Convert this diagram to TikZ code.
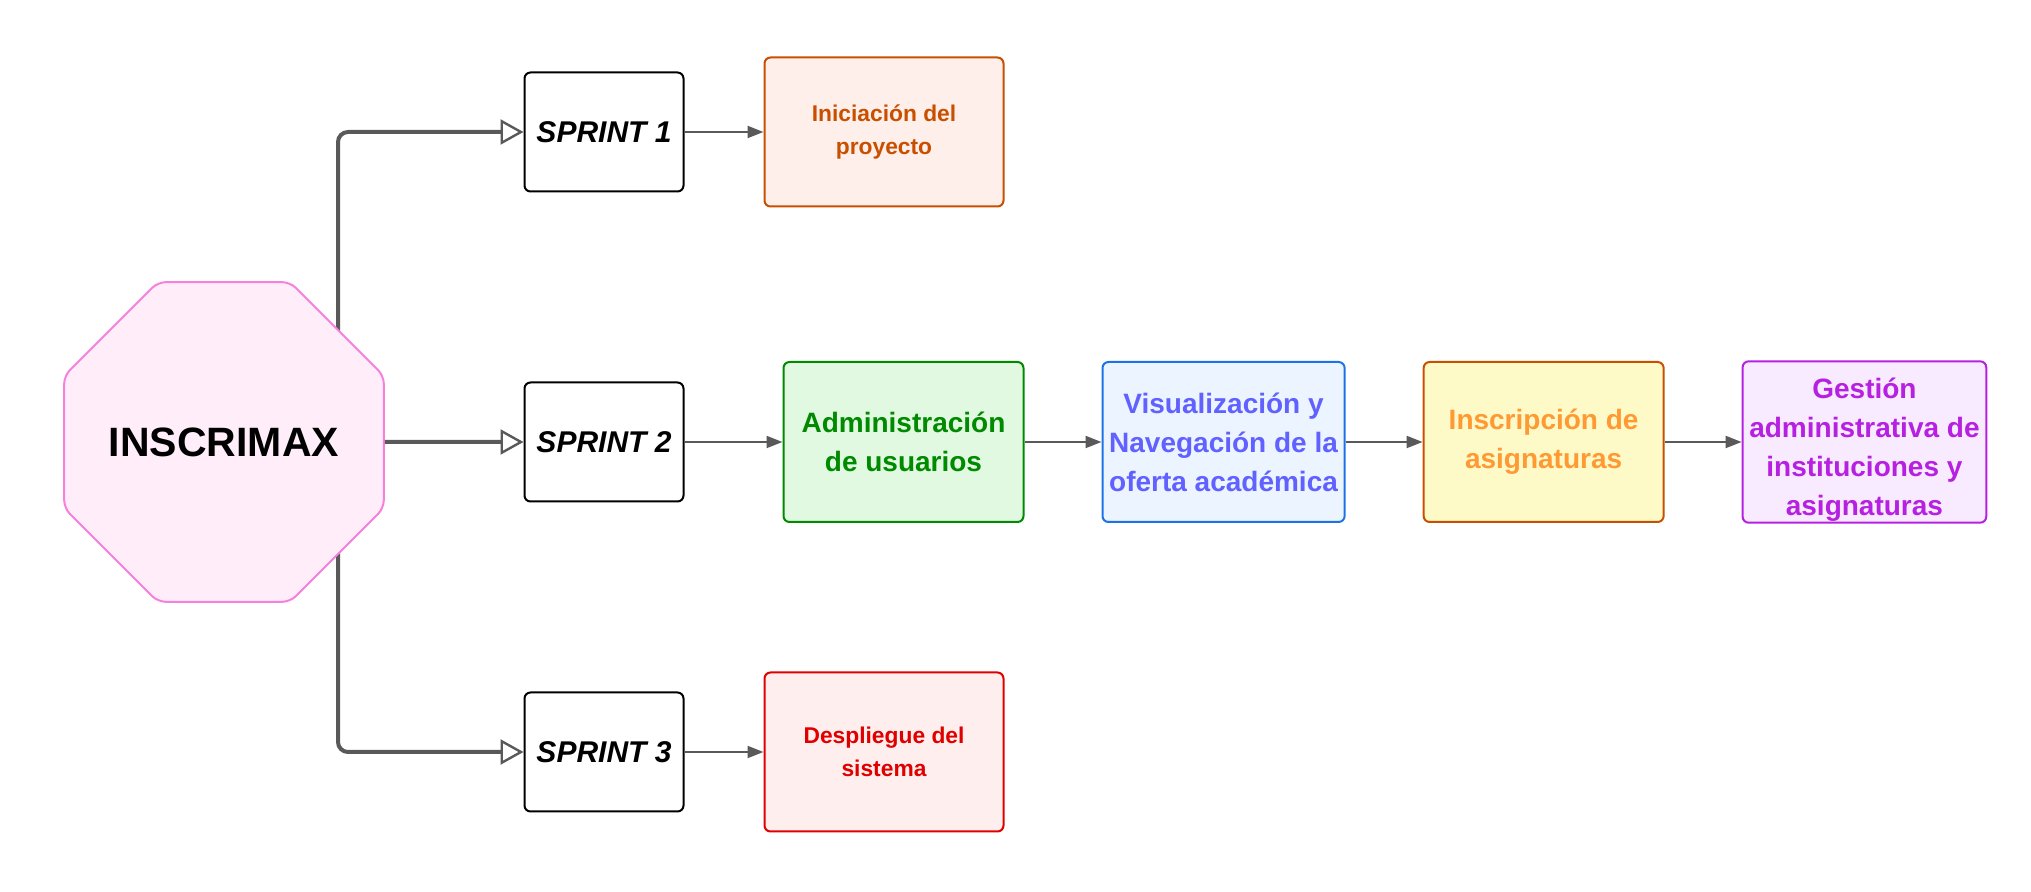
\documentclass[tikz,border=0pt]{standalone}
\usepackage{fontspec}
\setmainfont{Liberation Sans}
\usepackage{xcolor}
\usetikzlibrary{arrows.meta,positioning,shapes.geometric,backgrounds}
\definecolor{Wire}{HTML}{595959}
\definecolor{PinkFill}{HTML}{FFEEFA}
\definecolor{PinkLine}{HTML}{F77FDD}
\definecolor{OrangeLine}{HTML}{C94F00}
\definecolor{OrangeFill}{HTML}{FFEFEB}
\definecolor{RedLine}{HTML}{E00000}
\definecolor{RedFill}{HTML}{FFEEEE}
\definecolor{GreenLine}{HTML}{008A00}
\definecolor{GreenFill}{HTML}{E1F8E1}
\definecolor{BlueLine}{HTML}{1C73E6}
\definecolor{BlueFill}{HTML}{EBF4FF}
\definecolor{BlueText}{HTML}{6161FF}
\definecolor{YellowFill}{HTML}{FDFAC8}
\definecolor{YellowText}{HTML}{FF9933}
\definecolor{PurpleLine}{HTML}{B620E0}
\definecolor{PurpleFill}{HTML}{F9EBFF}

\begin{document}
\begin{tikzpicture}[x=0.5pt,y=-0.5pt,
  sprint/.style={draw=black,line width=1pt,rounded corners=3pt,minimum width=79.5pt,minimum height=59.5pt,font=\fontsize{15}{18}\selectfont\bfseries\itshape},
  task/.style n args={3}{draw=#1,fill=#2,text=#3,line width=1pt,rounded corners=3pt,minimum width=120pt,minimum height=80pt,align=center,font=\fontsize{14}{19.5}\selectfont\bfseries},
  small/.style={font=\fontsize{11.4}{16.7}\selectfont\bfseries},
  trunk/.style={Wire,line width=2pt,rounded corners=5pt,-{Triangle[open,length=11.5pt,width=12.5pt,line width=1.2pt]}},
  link/.style={Wire,line width=1pt,-{Triangle[length=8pt,width=6pt]}}]
  \useasboundingbox (0,0) rectangle (2031,892);
  \node[regular polygon,regular polygon sides=8,draw=PinkLine,fill=PinkFill,line width=1pt,minimum size=173pt,inner sep=0pt,rounded corners=4pt,font=\fontsize{20.5}{24}\selectfont\bfseries] (core) at (224,442) {\makebox[0pt]{INSCRIMAX}};
  \coordinate (fork) at (338,442);
  % sprints
  \node[sprint] (s1) at (604,132) {SPRINT 1};
  \node[sprint] (s2) at (604,442) {SPRINT 2};
  \node[sprint] (s3) at (604,752) {SPRINT 3};
  \node[task={OrangeLine}{OrangeFill}{OrangeLine},small,minimum width=119.5pt,minimum height=74.5pt,right=39.5pt of s1] (init) {Iniciación del\\proyecto};
  \node[task={RedLine}{RedFill}{RedLine},small,minimum width=119.5pt,minimum height=79.5pt,right=39.5pt of s3] (deploy) {Despliegue del\\sistema};
  \node[task={GreenLine}{GreenFill}{GreenLine},right=49pt of s2] (admin) {Administración\\de usuarios};
  \node[task={BlueLine}{BlueFill}{BlueText},right=38.5pt of admin] (visual) {Visualización y\\Navegación de la\\oferta académica};
  \node[task={OrangeLine}{YellowFill}{YellowText},right=38.5pt of visual] (enroll) {Inscripción de\\asignaturas};
  \node[task={PurpleLine}{PurpleFill}{PurpleLine},right=38.5pt of enroll,text height=74pt,text depth=0pt] (manage) {Gestión\\administrativa de\\instituciones y\\asignaturas};
  \begin{scope}[on background layer]
    \draw[trunk] (fork) |- (s1.west);
    \draw[trunk] (fork) |- (s3.west);
  \end{scope}
  \draw[trunk] (core.east) -- (s2.west);
  \draw[link] (s1) -- (init);
  \draw[link] (s3) -- (deploy);
  \foreach \a/\b in {s2/admin,admin/visual,visual/enroll,enroll/manage}
    \draw[link] (\a) -- (\b);
\end{tikzpicture}
\end{document}
